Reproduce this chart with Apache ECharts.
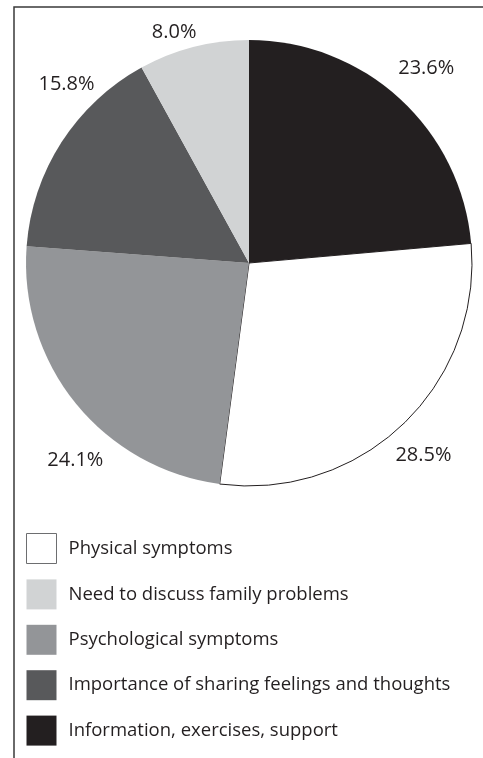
<!DOCTYPE html>
<html>
<head>
<meta charset="utf-8">
<script src="https://cdn.jsdelivr.net/npm/echarts@6/dist/echarts.min.js"></script>
<style>
  html, body { margin: 0; padding: 0; background: #fff; }
  #chart { width: 483px; height: 758px; }
</style>
</head>
<body>
<div id="chart"></div>
<script>
// Slices in clockwise order from 12 o'clock
const categories = [
  'Information, exercises, support',
  'Physical symptoms',
  'Psychological symptoms',
  'Importance of sharing feelings and thoughts',
  'Need to discuss family problems'
];
const values = [23.6, 28.5, 24.1, 15.8, 8.0];
const colors = ['#231f20', '#ffffff', '#939598', '#58595b', '#d1d3d4'];
// Legend reading order
const legendOrder = [
  'Physical symptoms',
  'Need to discuss family problems',
  'Psychological symptoms',
  'Importance of sharing feelings and thoughts',
  'Information, exercises, support'
];
// Nudges for the percentage labels, [dx, dy]
const labelNudge = [[1, -2], [-6, 4], [29, 33], [37, -37], [-10, 22]];

const FONT = '"Open Sans", "Noto Sans", sans-serif';

const pieData = categories.map((name, i) => ({
  name,
  value: values[i],
  itemStyle: i === 1
    ? { color: colors[i], borderColor: '#231f20', borderWidth: 1 }
    : { color: colors[i], borderWidth: 0 }
}));

const labelData = categories.map((name, i) => ({
  name,
  value: values[i],
  label: { offset: labelNudge[i] }
}));

// The white swatch gets a soft grey outline
const legendData = legendOrder.map(name =>
  name === 'Physical symptoms'
    ? { name, itemStyle: { borderColor: '#6d6e70', borderWidth: 1 } }
    : { name }
);

const chart = echarts.init(document.getElementById('chart'), null, { renderer: 'canvas' });
chart.setOption({
  animation: false,
  backgroundColor: '#ffffff',
  legend: {
    data: legendData,
    orient: 'vertical',
    left: 26,
    top: 533,
    padding: 0,
    itemWidth: 30,
    itemHeight: 30,
    itemGap: 15.4,
    selectedMode: false,
    icon: 'rect',
    textStyle: {
      fontFamily: FONT,
      fontSize: 18.5,
      color: '#231f20',
      padding: [0, 0, 0, 7]
    }
  },
  graphic: [
    {
      type: 'polyline',
      silent: true,
      shape: { points: [[14, 758], [14, 7], [483, 7]] },
      style: { stroke: '#3a3a3a', lineWidth: 1.5, fill: null }
    }
  ],
  series: [
    {
      type: 'pie',
      center: [249, 263],
      radius: 223,
      startAngle: 90,
      clockwise: true,
      silent: true,
      label: { show: false },
      labelLine: { show: false },
      emphasis: { disabled: true },
      data: pieData
    },
    {
      type: 'pie',
      center: [249, 263],
      radius: [240, 276],
      startAngle: 90,
      clockwise: true,
      silent: true,
      legendHoverLink: false,
      itemStyle: { color: 'rgba(0,0,0,0)', borderWidth: 0 },
      label: {
        show: true,
        position: 'inside',
        formatter: p => p.value.toFixed(1) + '%',
        fontFamily: FONT,
        fontSize: 20,
        color: '#231f20'
      },
      labelLine: { show: false },
      emphasis: { disabled: true },
      data: labelData
    }
  ]
});
</script>
</body>
</html>
